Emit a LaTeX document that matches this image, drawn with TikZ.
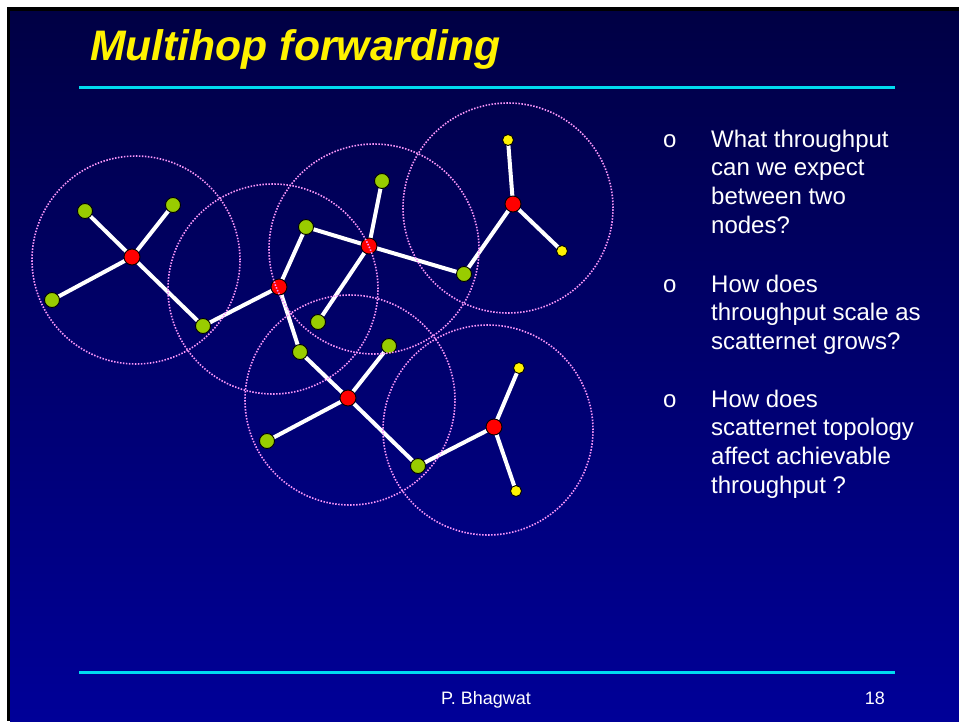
\documentclass[tikz,border=0pt]{standalone}
\usepackage{fontspec}
\setmainfont{Liberation Sans}
\definecolor{bgtop}{RGB}{0,0,68}
\definecolor{bgbot}{RGB}{0,0,152}
\definecolor{cyanline}{RGB}{0,220,240}
\definecolor{grn}{RGB}{153,204,0}
\definecolor{ring}{RGB}{250,150,250}
\pgfdeclarelayer{bg}
\pgfdeclarelayer{edges}
\pgfdeclarelayer{top}
\pgfsetlayers{bg,edges,main,top}
\newcommand{\qtext}[1]{\parbox[t]{245pt}{\raggedright #1}}
\begin{document}
\begin{tikzpicture}[x=1pt,y=-1pt,
  hub/.style={circle,fill=red,draw=black,line width=0.9pt,minimum size=16pt,inner sep=0pt},
  leaf/.style={circle,fill=grn,draw=black,line width=0.9pt,minimum size=15pt,inner sep=0pt},
  tipnode/.style={circle,fill=yellow,draw=black,line width=0.9pt,minimum size=11pt,inner sep=0pt},
  link/.style={white,line width=4pt},
  rangecircle/.style={ring,line width=1.6pt,dash pattern=on 1.5pt off 1.5pt},
  rule/.style={cyanline,line width=3pt},
  bodytext/.style={text=white,font=\fontsize{24}{28.7}\selectfont,anchor=base west,inner sep=0pt}]
\begin{pgfonlayer}{bg}
\useasboundingbox (0,0) rectangle (959,721);
\fill[white] (0,0) rectangle (959,721);
\fill[black] (7,7) rectangle (959,721);
\shade[top color=bgtop,bottom color=bgbot] (10,11) rectangle (959,721);
\end{pgfonlayer}

% title
\node[text=black!70!blue,font=\fontsize{42.7}{50}\selectfont\bfseries\itshape,anchor=base west,inner sep=0pt] (titleshadow) at (91.5,61.5) {Multihop forwarding};
\node[text=yellow,font=\fontsize{42.7}{50}\selectfont\bfseries\itshape,anchor=base west,inner sep=0pt] (title) at (90,60) {Multihop forwarding};
\coordinate (tl1) at (79,87);
\coordinate (tl2) at (895,87);
\draw[rule] (tl1) -- (tl2);

% nodes
\node[hub] (R1) at (132,257) {};
\node[leaf] (G1a) at (85,211) {};
\node[leaf] (G1b) at (173,205) {};
\node[leaf] (G1c) at (52,300) {};
\node[leaf] (G1d) at (203,326) {};
\node[hub] (R2) at (279,287) {};
\node[leaf] (G2a) at (306,227) {};
\node[leaf] (G2b) at (300,352) {};
\node[hub] (R3) at (369,246) {};
\node[leaf] (G3a) at (382,181) {};
\node[leaf] (G3b) at (318,322) {};
\node[leaf] (G3c) at (464,274) {};
\node[hub] (R4) at (513,204) {};
\node[tipnode] (Y4a) at (508,140) {};
\node[tipnode] (Y4b) at (562,251) {};
\node[hub] (R5) at (348,398) {};
\node[leaf] (G5a) at (389,346) {};
\node[leaf] (G5b) at (267,441) {};
\node[leaf] (G5c) at (418,466) {};
\node[hub] (R6) at (494,427) {};
\node[tipnode] (Y6a) at (519,368) {};
\node[tipnode] (Y6b) at (516,491) {};

\begin{pgfonlayer}{edges}
\draw[link] (R1.center) -- (G1a.center);
\draw[link] (R1.center) -- (G1b.center);
\draw[link] (R1.center) -- (G1c.center);
\draw[link] (R1.center) -- (G1d.center);
\draw[link] (G1d.center) -- (R2.center);
\draw[link] (R2.center) -- (G2a.center);
\draw[link] (R2.center) -- (G2b.center);
\draw[link] (G2a.center) -- (R3.center);
\draw[link] (R3.center) -- (G3a.center);
\draw[link] (R3.center) -- (G3b.center);
\draw[link] (R3.center) -- (G3c.center);
\draw[link] (G3c.center) -- (R4.center);
\draw[link] (R4.center) -- (Y4a.center);
\draw[link] (R4.center) -- (Y4b.center);
\draw[link] (G2b.center) -- (R5.center);
\draw[link] (R5.center) -- (G5a.center);
\draw[link] (R5.center) -- (G5b.center);
\draw[link] (R5.center) -- (G5c.center);
\draw[link] (G5c.center) -- (R6.center);
\draw[link] (R6.center) -- (Y6a.center);
\draw[link] (R6.center) -- (Y6b.center);
\end{pgfonlayer}

\begin{pgfonlayer}{top}
\draw[rangecircle] (136,260) circle[radius=104pt];
\draw[rangecircle] (273,289) circle[radius=105pt];
\draw[rangecircle] (374,249) circle[radius=105pt];
\draw[rangecircle] (508,208) circle[radius=105pt];
\draw[rangecircle] (350,400) circle[radius=105pt];
\draw[rangecircle] (488,430) circle[radius=105pt];
\end{pgfonlayer}

% bullets
\node[bodytext] (b1) at (663,147) {o};
\node[bodytext] (q1) at (711,147) {\qtext{What throughput\\can we expect\\between two\\nodes?}};
\node[bodytext] (b2) at (663,292) {o};
\node[bodytext] (q2) at (711,292) {\qtext{How does\\throughput scale as\\scatternet grows?}};
\node[bodytext] (b3) at (663,407) {o};
\node[bodytext] (q3) at (711,407) {\qtext{How does\\scatternet topology\\affect achievable\\throughput ?}};

% footer
\coordinate (bl1) at (79,672);
\coordinate (bl2) at (895,672);
\draw[rule] (bl1) -- (bl2);
\node[text=white,font=\fontsize{18}{20}\selectfont,anchor=base,inner sep=0pt] (author) at (486,704) {P. Bhagwat};
\node[text=white,font=\fontsize{18}{20}\selectfont,anchor=base east,inner sep=0pt] (pagenum) at (885,704) {18};
\end{tikzpicture}
\end{document}
